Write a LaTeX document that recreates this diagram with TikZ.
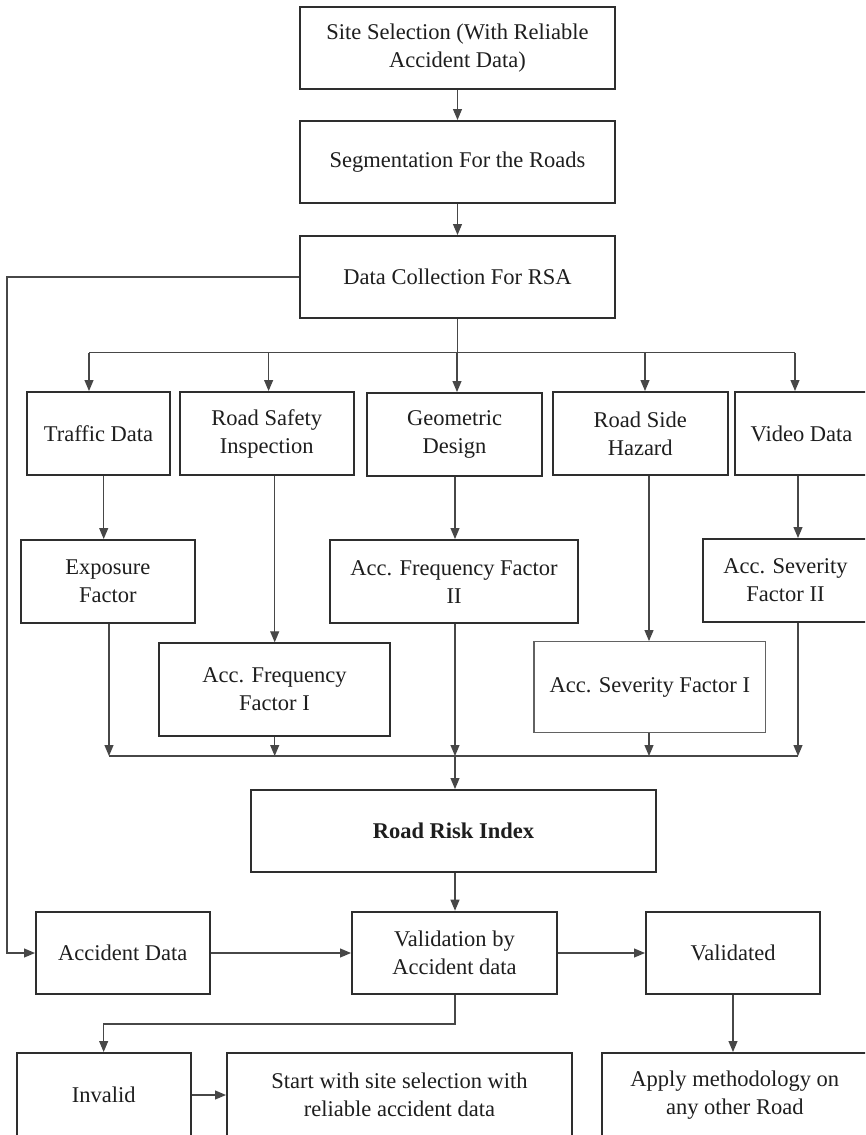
\documentclass[tikz,border=0pt]{standalone}
\usepackage{fontspec}
\setmainfont{Liberation Serif}
\usetikzlibrary{arrows.meta}
\definecolor{boxline}{HTML}{2E2E2E}
\definecolor{wirec}{HTML}{474747}
\definecolor{ink}{HTML}{1E1E1E}
\begin{document}
\begin{tikzpicture}[x=1pt,y=-1pt,
  block/.style={draw=boxline, line width=2pt, fill=white, inner sep=0pt,
    align=center, text=ink, font=\fontsize{22.5}{28}\selectfont},
  lightblock/.style={block, draw=boxline!75, line width=1.3pt},
  wire/.style={draw=wirec, line width=1.1pt},
  arr/.style={wire, -{Triangle[length=11pt,width=9pt]}},
]
\useasboundingbox (0,0) rectangle (865,1135);
\clip (0,0) rectangle (865,1135);
\fill[white] (0,0) rectangle (865,1135);

% --- main column ---
\node[block, minimum width=315pt, minimum height=82pt] (site) at (457.5,48)
  {Site Selection (With Reliable\\Accident Data)};
\node[block, minimum width=315pt, minimum height=82pt] (seg) at (457.5,162)
  {Segmentation For the Roads};
\node[block, minimum width=315pt, minimum height=82pt] (dc) at (457.5,277)
  {Data Collection For RSA};

% --- data sources ---
\node[block, minimum width=143pt, minimum height=83pt] (traffic) at (98.5,433.5) {Traffic Data};
\node[block, minimum width=173.5pt, minimum height=83pt] (rsi) at (266.75,433.5) {Road Safety\\Inspection};
\node[block, minimum width=175pt, minimum height=83pt] (geo) at (454.5,434.5) {Geometric\\Design};
\node[block, minimum width=174.5pt, minimum height=83pt] (rsh) at (640.25,433.5) {Road Side\\Hazard};
\node[block, minimum width=133pt, minimum height=83pt] (video) at (801.5,433.5) {Video Data};

% --- factors ---
\node[block, minimum width=173.7pt, minimum height=83.3pt] (expo) at (107.85,581.65) {Exposure\\Factor};
\node[block, minimum width=248pt, minimum height=83.3pt] (accf2) at (454,581.65) {Acc. Frequency Factor\\II};
\node[block, minimum width=165pt, minimum height=82.7pt] (accs2) at (785.5,580.35) {Acc. Severity\\Factor II};
\node[block, minimum width=231pt, minimum height=92.4pt] (accf1) at (274.5,689.5) {Acc. Frequency\\Factor I};
\node[lightblock, minimum width=231.6pt, minimum height=91pt] (accs1) at (649.8,687.2) {Acc. Severity Factor I};

% --- index and validation ---
\node[block, minimum width=405pt, minimum height=82.3pt] (rri) at (453.5,831.15) {\textbf{Road Risk Index}};
\node[block, minimum width=173.6pt, minimum height=82.6pt] (accdata) at (122.8,953) {Accident Data};
\node[block, minimum width=205pt, minimum height=82.6pt] (valid) at (454.5,953) {Validation by\\Accident data};
\node[block, minimum width=174pt, minimum height=82.6pt] (validated) at (733,953) {Validated};
\node[block, minimum width=174.3pt, minimum height=84pt] (invalid) at (103.65,1095) {Invalid};
\node[block, minimum width=345pt, minimum height=84pt] (start) at (399.5,1095)
  {Start with site selection with\\reliable accident data};
\node[block, minimum width=266.3pt, minimum height=84pt] (apply) at (734.85,1095)
  {Apply methodology on\\any other Road};

% --- helper coordinates for connector lanes ---
\coordinate (fanL) at (89,352.5);
\coordinate (fanB) at (268.6,352.5);
\coordinate (fanC) at (457,352.5);
\coordinate (fanD) at (645,352.5);
\coordinate (fanR) at (795,352.5);
\coordinate (xExpo) at (103.7,0);
\coordinate (xRsi) at (274.7,0);
\coordinate (xGeo) at (455,0);
\coordinate (xRsh) at (649,0);
\coordinate (xVid) at (798,0);
\coordinate (colL) at (109,756);
\coordinate (colR) at (798,756);
\coordinate (loopX) at (7,0);
\coordinate (elbow) at (455,1024);

% --- top chain ---
\draw[arr] (site) -- (seg);
\draw[arr] (seg) -- (dc);

% --- fan out to data sources ---
\draw[wire] (dc.south) -- (dc.south |- fanC);
\draw[wire] (fanL) -- (fanR);
\draw[arr] (fanL) -- (fanL |- traffic.north);
\draw[arr] (fanB) -- (fanB |- rsi.north);
\draw[arr] (fanC) -- (fanC |- geo.north);
\draw[arr] (fanD) -- (fanD |- rsh.north);
\draw[arr] (fanR) -- (fanR |- video.north);

% --- sources to factors ---
\draw[arr] (traffic.south -| xExpo) -- (expo.north -| xExpo);
\draw[arr] (rsi.south -| xRsi) -- (accf1.north -| xRsi);
\draw[arr] (geo.south -| xGeo) -- (accf2.north -| xGeo);
\draw[arr] (rsh.south -| xRsh) -- (accs1.north -| xRsh);
\draw[arr] (video.south -| xVid) -- (accs2.north -| xVid);

% --- factors collected ---
\draw[arr] (expo.south -| colL) -- (colL);
\draw[arr] (accf1.south -| xRsi) -- (xRsi |- colL);
\draw[arr] (accf2.south -| xGeo) -- (xGeo |- colL);
\draw[arr] (accs1.south -| xRsh) -- (xRsh |- colL);
\draw[arr] (accs2.south -| colR) -- (colR);
\draw[wire] (colL) -- (colR);
\draw[arr] (xGeo |- colL) -- (xGeo |- rri.north);

% --- validation ---
\draw[arr] (rri.south -| xGeo) -- (valid.north -| xGeo);
\draw[arr] (dc.west) -- (dc.west -| loopX) -- (loopX |- accdata.west) -- (accdata.west);
\draw[arr] (accdata) -- (valid);
\draw[arr] (valid) -- (validated);
\draw[arr] (valid.south -| elbow) -- (elbow) -- (elbow -| invalid.north) -- (invalid.north);
\draw[arr] (invalid) -- (start);
\draw[arr] (validated.south) -- (validated.south |- apply.north);
\end{tikzpicture}
\end{document}
